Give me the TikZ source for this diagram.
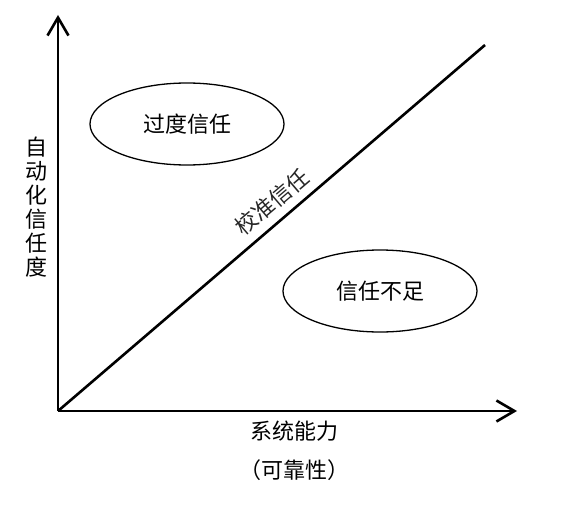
\documentclass[tikz,border=0pt]{standalone}
\usepackage{fontspec}
\setmainfont{Noto Sans CJK SC}
\usetikzlibrary{arrows.meta,shapes.geometric}
\begin{document}
\begin{tikzpicture}[x=1pt,y=-1pt,
  axis/.style={line width=2.6pt,-{Straight Barb[length=18pt,width=21pt]}},
  diag/.style={line width=2.6pt},
  region/.style={draw,line width=1.3pt,ellipse,minimum width=194pt,minimum height=82pt,inner sep=0pt,font=\fontsize{22}{24}\selectfont},
  lbl/.style={font=\fontsize{22}{24}\selectfont,inner sep=0pt}]
\useasboundingbox (0,0) rectangle (564,505);
\coordinate (O) at (58,411);
\coordinate (Y) at (58,15);
\coordinate (X) at (517,411);
\coordinate (D) at (485,45);
\draw[axis] (O) -- (Y);
\draw[axis] (O) -- (X);
\draw[diag] (O) -- (D);
\node[region] (over) at (187,124) {过度信任};
\node[region] (under) at (380,291) {信任不足};
\node[lbl,rotate=40.5,text=black!85] (calib) at (272,202) {校准信任};
\node[lbl,align=center] (ylab) at (36,207) {自\\动\\化\\信\\任\\度};
\node[lbl] (xlab) at (294,431) {系统能力};
\node[lbl] (xlab2) at (294,470) {（可靠性）};
\end{tikzpicture}
\end{document}
